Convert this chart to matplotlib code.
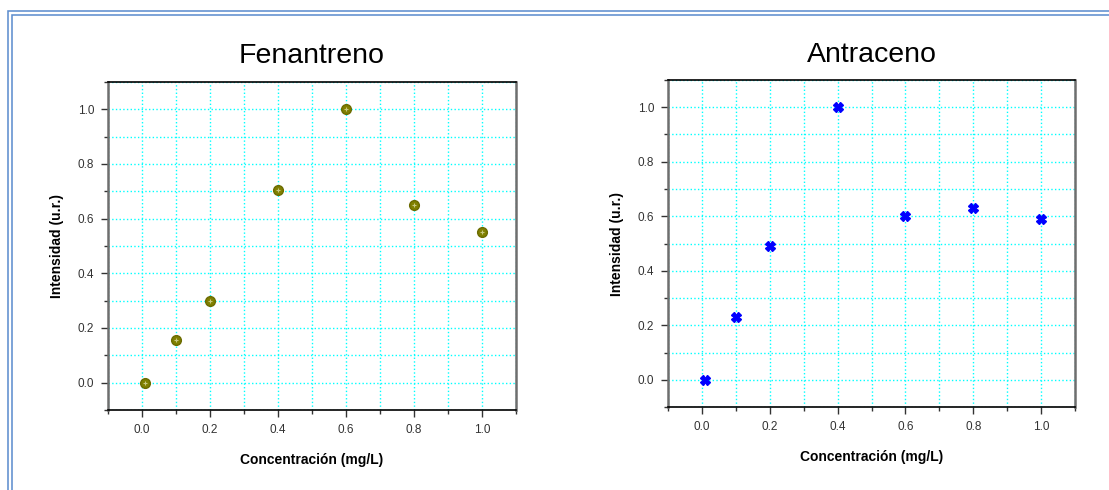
import matplotlib
matplotlib.use('Agg')
import matplotlib.pyplot as plt
from matplotlib.ticker import MultipleLocator
from matplotlib.patches import Rectangle

plt.rcParams['font.family'] = ['Liberation Sans', 'DejaVu Sans']

# Data
conc = [0.01, 0.1, 0.2, 0.4, 0.6, 0.8, 1.0]
fenantreno = [0.0, 0.155, 0.30, 0.705, 1.0, 0.65, 0.55]
antraceno = [0.0, 0.23, 0.49, 1.0, 0.60, 0.63, 0.59]

titles = ['Fenantreno', 'Antraceno']
xlabel = 'Concentración (mg/L)'
ylabel = 'Intensidad (u.r.)'

W, H = 1109, 490
fig = plt.figure(figsize=(W / 100, H / 100), dpi=100)

# double blue frame (runs off the right and bottom edges)
for xoff, yoff in [(8.2, 11.3), (11.6, 14.6)]:
    fig.patches.append(Rectangle((xoff / W, -0.1), 1.2, 0.1 + (H - yoff) / H,
                                 transform=fig.transFigure, fill=False,
                                 edgecolor='#5f8fcf', linewidth=1.15))

ax1 = fig.add_axes([108 / W, 80 / H, 408 / W, 328 / H])
ax2 = fig.add_axes([668 / W, 83 / H, 407 / W, 327 / H])


def style_axes(ax, title, tpad):
    ax.set_xlim(-0.1, 1.1)
    ax.set_ylim(-0.1, 1.1)
    ax.xaxis.set_major_locator(MultipleLocator(0.2))
    ax.xaxis.set_minor_locator(MultipleLocator(0.1))
    ax.yaxis.set_major_locator(MultipleLocator(0.2))
    ax.yaxis.set_minor_locator(MultipleLocator(0.1))
    ax.grid(True, which='both', color='#00ffff', linestyle=':', linewidth=1.0)
    ax.set_axisbelow(True)
    for s in ['left', 'right']:
        ax.spines[s].set_color('#6e6e6e')
        ax.spines[s].set_linewidth(1.8)
    for s in ['top', 'bottom']:
        ax.spines[s].set_color('black')
        ax.spines[s].set_linewidth(1.2)
    ax.tick_params(which='major', direction='out', length=5, width=1,
                   labelsize=8.5, colors='#333333', pad=5)
    ax.tick_params(which='minor', direction='out', length=3, width=1, colors='#333333')
    ax.set_title(title, fontsize=20.5, pad=tpad)
    ax.set_xlabel(xlabel, fontsize=10, fontweight='bold', labelpad=12)
    ax.set_ylabel(ylabel, fontsize=10, fontweight='bold', labelpad=10)


style_axes(ax1, titles[0], 14)
style_axes(ax2, titles[1], 13)

# Fenantreno: olive circle with a light cross inside
ax1.plot(conc, fenantreno, linestyle='none', marker='o', markersize=7,
         color='#808000', markeredgecolor='#6b6b00', zorder=3)
ax1.plot(conc, fenantreno, linestyle='none', marker='+', markersize=3.5,
         markeredgewidth=0.8, color='#c8c880', zorder=4)

# Antraceno: blue filled X
ax2.plot(conc, antraceno, linestyle='none', marker='X', markersize=7,
         color='blue', markeredgecolor='blue', zorder=3)

plt.savefig('out.png', dpi=100)
